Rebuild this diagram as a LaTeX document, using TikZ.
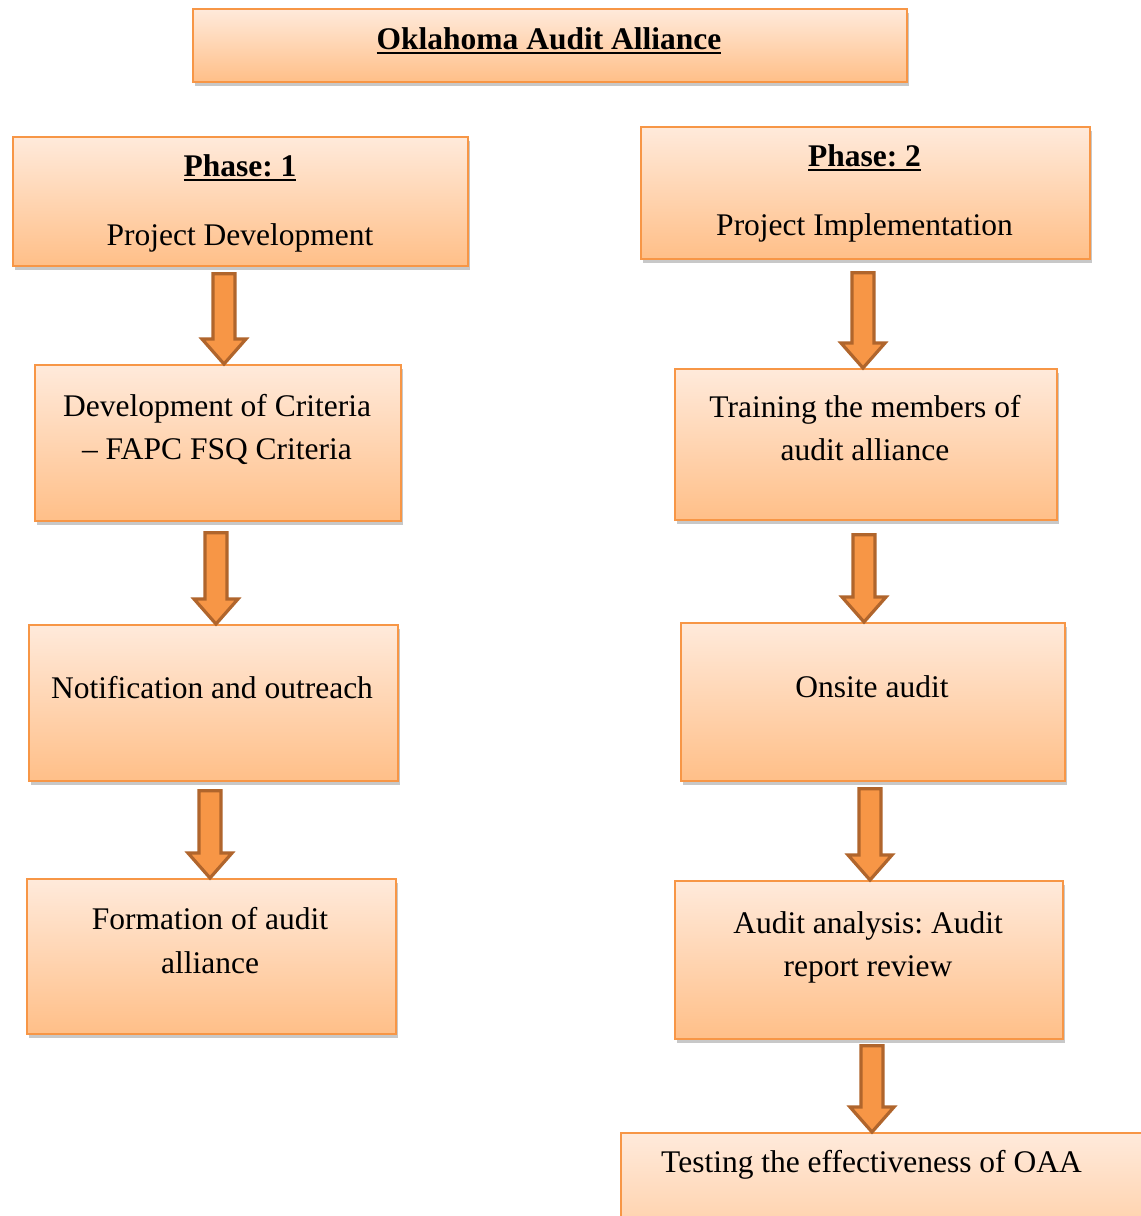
\documentclass[tikz,border=0pt]{standalone}
\usepackage{fontspec}
\setmainfont{Liberation Serif}
\usetikzlibrary{shadows,calc}
\definecolor{boxtop}{HTML}{FFEADB}
\definecolor{boxbot}{HTML}{FFBF88}
\definecolor{boxline}{HTML}{F79646}
\definecolor{arrfill}{HTML}{F79646}
\definecolor{arrline}{HTML}{B0652C}
\frenchspacing
\newsavebox\myulbox
\newcommand\myul[1]{\sbox\myulbox{#1}\rlap{\usebox\myulbox}\rule[-5.1pt]{\wd\myulbox}{2.6pt}}
\tikzset{
 box/.style={draw=boxline, line width=1.8pt, top color=boxtop, bottom color=boxbot, anchor=north west, inner sep=0pt,
   drop shadow={opacity=0.3, shadow xshift=2pt, shadow yshift=-4pt, fill=black!70}},
 txt/.style={anchor=base, inner sep=0pt, font=\fontsize{31.5}{43}\selectfont},
 ttl/.style={anchor=base, inner sep=0pt, font=\fontsize{31.5}{43}\selectfont\bfseries},
 blockarr/.style={draw=arrline, fill=arrfill, line width=3.2pt, line join=miter},
}
% #1 x, #2 from node, #3 to node, #4 gap below from node
\newcommand\barrow[4]{\draw[blockarr] let \p1=(#2.south), \p2=(#3.north) in
  (#1pt-11pt,\y1-#4pt) -- (#1pt+11pt,\y1-#4pt) -- (#1pt+11pt,\y2+25pt) -- (#1pt+22pt,\y2+25pt)
  -- (#1pt,\y2) -- (#1pt-22pt,\y2+25pt) -- (#1pt-11pt,\y2+25pt) -- cycle;}
\begin{document}
\begin{tikzpicture}[x=1pt,y=-1pt]
\fill[white] (0,0) rectangle (1141,1216);
\useasboundingbox (0,0) rectangle (1141,1216);
% boxes
\node[box, minimum width=714pt, minimum height=73pt] (tb) at (192,8) {};
\node[box, minimum width=455pt, minimum height=129pt] (p1) at (12,136) {};
\node[box, minimum width=449pt, minimum height=132pt] (p2) at (640,126) {};
\node[box, minimum width=366pt, minimum height=156pt] (d1) at (34,364) {};
\node[box, minimum width=369pt, minimum height=156pt] (n1) at (28,624) {};
\node[box, minimum width=369pt, minimum height=155pt] (f1) at (26,878) {};
\node[box, minimum width=382pt, minimum height=151pt] (t2) at (674,368) {};
\node[box, minimum width=384pt, minimum height=158pt] (o2) at (680,622) {};
\node[box, minimum width=388pt, minimum height=158pt] (a2) at (674,880) {};
\node[box, minimum width=540pt, minimum height=168pt] (e2) at (620,1132) {};
% texts
\node[ttl] (tbt) at (549,49) {\myul{Oklahoma Audit Alliance}};
\node[ttl] (p1t) at (240,176) {\myul{Phase: 1}};
\node[txt] (p1s) at (240,245) {Project Development};
\node[ttl] (p2t) at (864.5,166) {\myul{Phase: 2}};
\node[txt] (p2s) at (864.5,235) {Project Implementation};
\node[txt] (d1a) at (217,416) {Development of Criteria};
\node[txt] (d1b) at (217,459) {-- FAPC FSQ Criteria};
\node[txt] (n1a) at (212,698) {Notification and outreach};
\node[txt] (f1a) at (210,929) {Formation of audit};
\node[txt] (f1b) at (210,973) {alliance};
\node[txt] (t2a) at (865,417) {Training the members of};
\node[txt] (t2b) at (865,460) {audit alliance};
\node[txt] (o2a) at (872,697) {Onsite audit};
\node[txt] (a2a) at (868,933) {Audit analysis: Audit};
\node[txt] (a2b) at (868,976) {report review};
\node[txt] (e2a) at (871.5,1172) {Testing the effectiveness of OAA};
% arrows
\barrow{224}{p1}{d1}{7}
\barrow{216}{d1}{n1}{11}
\barrow{210}{n1}{f1}{9}
\barrow{863}{p2}{t2}{13}
\barrow{864}{t2}{o2}{14}
\barrow{870}{o2}{a2}{7}
\barrow{872}{a2}{e2}{6}
\end{tikzpicture}
\end{document}
